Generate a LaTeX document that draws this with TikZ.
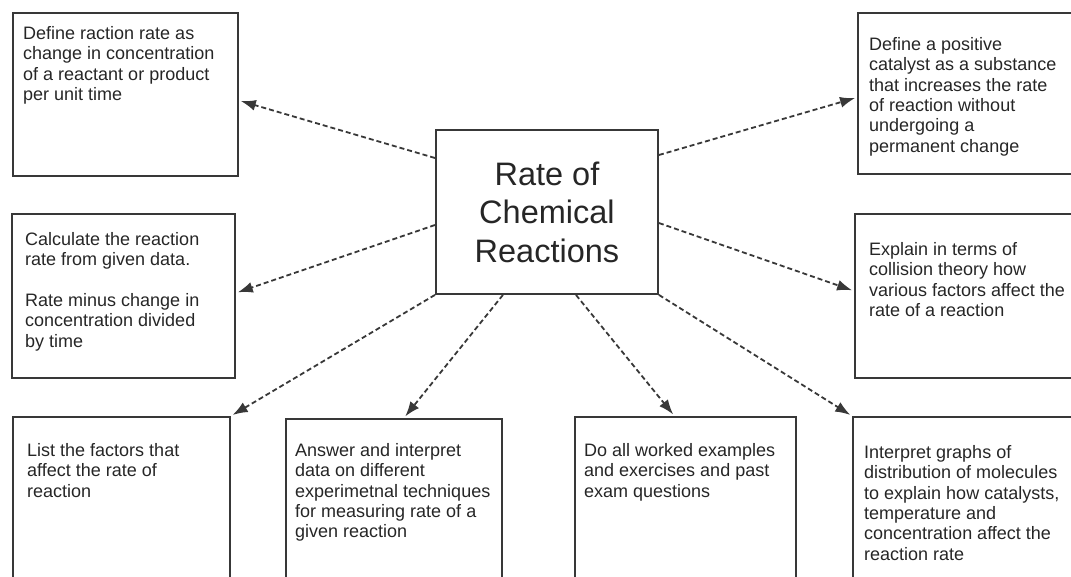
\documentclass[tikz,border=0pt]{standalone}
\usepackage{fontspec}
\setmainfont{Liberation Sans}
\usetikzlibrary{arrows.meta}

\definecolor{edgegray}{HTML}{383838}
\definecolor{inkgray}{HTML}{262626}

\begin{document}
\begin{tikzpicture}[x=1pt, y=-1pt,
  box/.style={draw=edgegray, line width=1.9pt, rectangle, anchor=north west, inner sep=0pt},
  note/.style={anchor=north west, inner sep=0pt, align=left, text=inkgray,
    font=\fontsize{18}{20.4}\selectfont},
  title/.style={box, align=center, text=inkgray, font=\fontsize{32.5}{38.5}\selectfont},
  link/.style={draw=edgegray, line width=1.8pt, dash pattern=on 5pt off 3pt,
    -{Latex[length=15pt,width=11pt]}, shorten >=2pt}]
\useasboundingbox (0,0) rectangle (1071,576);
\clip (0,0) rectangle (1071,576);

% centre
\node[title, minimum width=222pt, minimum height=164pt] (topic) at (435,129) {Rate of\\Chemical\\Reactions};

% left column
\node[box, minimum width=225pt, minimum height=163pt] (rate) at (12,12) {};
\node[note] (rateT) at ([shift={(11,14)}]rate.north west) {Define raction rate as\\change in concentration\\of a reactant or product\\per unit time};

\node[box, minimum width=223pt, minimum height=164pt] (calc) at (11,213) {};
\node[note] (calcT) at ([shift={(14,19)}]calc.north west) {Calculate the reaction\\rate from given data.\\[20.4pt]Rate minus change in\\concentration divided\\by time};

% right column
\node[box, minimum width=240pt, minimum height=161pt] (catalyst) at (857,12) {};
\node[note] (catalystT) at ([shift={(12,25)}]catalyst.north west) {Define a positive\\catalyst as a substance\\that increases the rate\\of reaction without\\undergoing a\\permanent change};

\node[box, minimum width=240pt, minimum height=164pt] (collision) at (854,213) {};
\node[note] (collisionT) at ([shift={(15,29)}]collision.north west) {Explain in terms of\\collision theory how\\various factors affect the\\rate of a reaction};

% bottom row
\node[box, minimum width=217pt, minimum height=180pt] (factors) at (12,416) {};
\node[note] (factorsT) at ([shift={(15,27)}]factors.north west) {List the factors that\\affect the rate of\\reaction};

\node[box, minimum width=216pt, minimum height=180pt] (measure) at (285,418) {};
\node[note] (measureT) at ([shift={(10,25)}]measure.north west) {Answer and interpret\\data on different\\experimetnal techniques\\for measuring rate of a\\given reaction};

\node[box, minimum width=221pt, minimum height=180pt] (worked) at (574,416) {};
\node[note] (workedT) at ([shift={(10,27)}]worked.north west) {Do all worked examples\\and exercises and past\\exam questions};

\node[box, minimum width=240pt, minimum height=180pt] (graphs) at (852,416) {};
\node[note] (graphsT) at ([shift={(12,29)}]graphs.north west) {Interpret graphs of\\distribution of molecules\\to explain how catalysts,\\temperature and\\concentration affect the\\reaction rate};

% links
\draw[link] ([shift={(0,29)}]topic.north west) -- ([shift={(0,6)}]rate.east);
\draw[link] ([shift={(0,96)}]topic.north west) -- ([shift={(0,-3)}]calc.east);
\draw[link] (topic.south west) -- (factors.north east);
\draw[link] ([shift={(-44,0)}]topic.south) -- ([shift={(10,0)}]measure.north);
\draw[link] ([shift={(29,0)}]topic.south) -- ([shift={(-11,0)}]worked.north);
\draw[link] (topic.south east) -- (graphs.north west);
\draw[link] ([shift={(0,26)}]topic.north east) -- ([shift={(0,4)}]catalyst.west);
\draw[link] ([shift={(0,94)}]topic.north east) -- ([shift={(0,-5)}]collision.west);
\end{tikzpicture}
\end{document}
